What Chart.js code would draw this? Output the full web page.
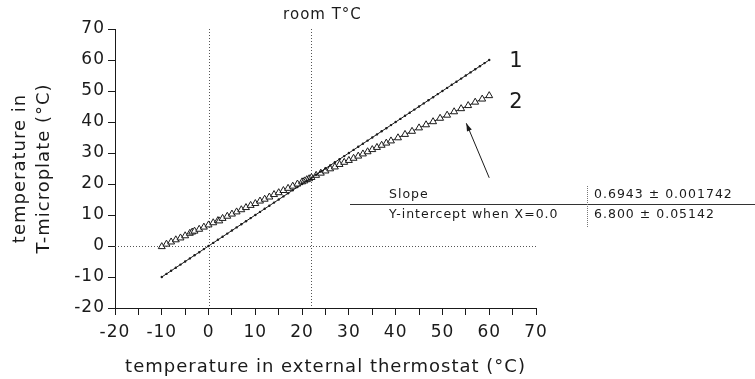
<!DOCTYPE html>
<html>
<head>
<meta charset="utf-8">
<script src="https://cdn.jsdelivr.net/npm/chart.js@4.4.1/dist/chart.umd.min.js"></script>
<style>
  html, body { margin: 0; padding: 0; background: #fff; }
  #wrap { width: 755px; height: 379px; position: relative; }
</style>
</head>
<body>
<div id="wrap"><canvas id="c" width="755" height="379"></canvas></div>
<script>
// Series 1: microplate reading equal to thermostat setting (reference line)
const line1X = [-10, -9, -8, -7, -6, -5, -4, -3, -2, -1, 0, 1, 2, 3, 4, 5, 6, 7, 8, 9, 10, 11, 12, 13, 14, 15, 16, 17, 18, 19, 20, 21, 22, 23, 24, 25, 26, 27, 28, 29, 30, 31, 32, 33, 34, 35, 36, 37, 38, 39, 40, 41, 42, 43, 44, 45, 46, 47, 48, 49, 50, 51, 52, 53, 54, 55, 56, 57, 58, 59, 60];
const line1Y = [-10, -9, -8, -7, -6, -5, -4, -3, -2, -1, 0, 1, 2, 3, 4, 5, 6, 7, 8, 9, 10, 11, 12, 13, 14, 15, 16, 17, 18, 19, 20, 21, 22, 23, 24, 25, 26, 27, 28, 29, 30, 31, 32, 33, 34, 35, 36, 37, 38, 39, 40, 41, 42, 43, 44, 45, 46, 47, 48, 49, 50, 51, 52, 53, 54, 55, 56, 57, 58, 59, 60];

// Series 2: measured temperature in the T-microplate
const line2X = [-10, -9, -8, -7, -6, -5, -4, -3.5, -3, -2, -1, 0, 1, 2, 2.3, 3, 4, 5, 6, 7, 8, 9, 10, 11, 12, 13, 14, 15, 16, 17, 18, 19, 20, 20.5, 21, 21.5, 22, 23, 24, 25, 26, 27, 28, 29, 30, 31, 32, 33, 34, 35, 36, 37, 38, 39, 40.5, 42, 43.5, 45, 46.5, 48, 49.5, 51, 52.5, 54, 55.5, 57, 58.5, 60];
const line2Y = [-0.2, 0.6, 1.3, 2.0, 2.6, 3.3, 4.1, 4.5, 4.8, 5.4, 6.1, 6.8, 7.5, 8.2, 8.1, 8.9, 9.6, 10.3, 11.0, 11.7, 12.4, 13.1, 13.7, 14.5, 15.1, 15.8, 16.6, 17.2, 17.9, 18.6, 19.3, 20.0, 20.7, 21.0, 21.4, 21.7, 22.1, 22.8, 23.5, 24.2, 24.9, 25.5, 26.3, 27.0, 27.6, 28.3, 29.0, 29.7, 30.4, 31.1, 31.8, 32.5, 33.2, 33.9, 34.9, 36.0, 37.0, 38.1, 39.1, 40.1, 41.2, 42.2, 43.3, 44.3, 45.3, 46.4, 47.4, 48.5];

// Axis ranges and markers
const xRange = [-20, 70];
const yRange = [-20, 70];
const roomT = 22;

// Fit results for series 2
const fitRows = ['Slope', 'Y-intercept when X=0.0'];
const fitValues = ['0.6943 \u00b1 0.001742', '6.800 \u00b1 0.05142'];

const FONT = 'DejaVu Sans';
const INK = '#1a1a1a';

const toPoints = (xs, ys) => xs.map((x, i) => ({ x, y: ys[i] }));

const extras = {
  id: 'extras',
  beforeDraw(chart) {
    chart.ctx.letterSpacing = '1px';
  },
  beforeDatasetsDraw(chart) {
    const { ctx, scales: { x, y } } = chart;
    ctx.save();
    ctx.strokeStyle = '#555';
    ctx.lineWidth = 1;
    ctx.setLineDash([1, 2]);
    // vertical guides at 0 and at room temperature
    [0, roomT].forEach(v => {
      const px = Math.round(x.getPixelForValue(v)) + 0.5;
      ctx.beginPath();
      ctx.moveTo(px, y.getPixelForValue(yRange[1]));
      ctx.lineTo(px, y.getPixelForValue(yRange[0]));
      ctx.stroke();
    });
    // horizontal guide at 0
    const py = Math.round(y.getPixelForValue(0)) + 0.5;
    ctx.beginPath();
    ctx.moveTo(x.getPixelForValue(xRange[0]), py);
    ctx.lineTo(x.getPixelForValue(xRange[1]), py);
    ctx.stroke();
    ctx.restore();
  },
  afterDraw(chart) {
    const { ctx, scales: { x, y } } = chart;
    ctx.save();
    ctx.letterSpacing = '1px';
    ctx.fillStyle = INK;
    ctx.textBaseline = 'middle';

    // room temperature caption
    ctx.font = `15px "${FONT}"`;
    ctx.textAlign = 'center';
    ctx.fillText('room T\u00b0C', x.getPixelForValue(roomT) + 11, 15);

    // series labels
    ctx.font = `21px "${FONT}"`;
    ctx.textAlign = 'left';
    ctx.fillText('1', x.getPixelForValue(64.3), y.getPixelForValue(59.6));
    ctx.fillText('2', x.getPixelForValue(64.3), y.getPixelForValue(46.2));

    // arrow pointing at series 2
    const ax0 = x.getPixelForValue(60), ay0 = y.getPixelForValue(22);
    const ax1 = x.getPixelForValue(55.1), ay1 = y.getPixelForValue(39.6);
    ctx.strokeStyle = INK;
    ctx.lineWidth = 1;
    ctx.beginPath();
    ctx.moveTo(ax0, ay0);
    ctx.lineTo(ax1, ay1);
    ctx.stroke();
    const ang = Math.atan2(ay1 - ay0, ax1 - ax0);
    const hl = 8, hw = 2.6;
    ctx.beginPath();
    ctx.moveTo(ax1, ay1);
    ctx.lineTo(ax1 - hl * Math.cos(ang) + hw * Math.sin(ang), ay1 - hl * Math.sin(ang) - hw * Math.cos(ang));
    ctx.lineTo(ax1 - hl * Math.cos(ang) - hw * Math.sin(ang), ay1 - hl * Math.sin(ang) + hw * Math.cos(ang));
    ctx.closePath();
    ctx.fill();

    // fit results table
    ctx.strokeStyle = '#333';
    ctx.beginPath();
    ctx.moveTo(350, 204.5);
    ctx.lineTo(755, 204.5);
    ctx.stroke();
    ctx.strokeStyle = '#777';
    ctx.setLineDash([1, 1]);
    ctx.beginPath();
    ctx.moveTo(587.5, 186);
    ctx.lineTo(587.5, 227);
    ctx.stroke();
    ctx.setLineDash([]);
    ctx.font = `12.5px "${FONT}"`;
    ctx.letterSpacing = '1px';
    ctx.textAlign = 'left';
    const rowY = [195, 215];
    fitRows.forEach((t, i) => ctx.fillText(t, 389, rowY[i]));
    fitValues.forEach((t, i) => ctx.fillText(t, 594, rowY[i]));
    ctx.restore();
  }
};

new Chart(document.getElementById('c'), {
  type: 'scatter',
  data: {
    datasets: [
      {
        label: '1',
        data: toPoints(line1X, line1Y),
        showLine: true,
        borderColor: INK,
        borderWidth: 1,
        backgroundColor: INK,
        pointRadius: 1.2,
        pointHoverRadius: 1.2,
        pointBorderWidth: 0,
        pointStyle: 'circle'
      },
      {
        label: '2',
        data: toPoints(line2X, line2Y),
        showLine: true,
        borderColor: INK,
        borderWidth: 1,
        pointStyle: 'triangle',
        pointRadius: 4,
        pointHoverRadius: 4,
        pointBackgroundColor: '#fff',
        pointBorderColor: INK,
        pointBorderWidth: 1
      }
    ]
  },
  options: {
    responsive: false,
    animation: false,
    events: [],
    layout: { padding: { top: 29, right: 219, left: 0, bottom: 0 } },
    plugins: { legend: { display: false }, tooltip: { enabled: false } },
    scales: {
      x: {
        type: 'linear',
        min: xRange[0],
        max: xRange[1],
        afterFit: s => { s.height = 71; },
        border: { display: true, color: INK, width: 1 },
        grid: { display: true, drawOnChartArea: false, drawTicks: true, tickLength: 7, color: INK },
        ticks: {
          stepSize: 5,
          autoSkip: false,
          maxRotation: 0,
          padding: 7,
          color: INK,
          font: { family: FONT, size: 17 },
          callback: v => (v % 10 === 0 ? String(v) : '')
        },
        title: {
          display: true,
          text: 'temperature in external thermostat (\u00b0C)',
          color: INK,
          font: { family: FONT, size: 18 },
          padding: { top: 0, bottom: 1 }
        }
      },
      y: {
        type: 'linear',
        min: yRange[0],
        max: yRange[1],
        afterFit: s => { s.width = 115; },
        border: { display: true, color: INK, width: 1 },
        grid: { display: true, drawOnChartArea: false, drawTicks: true, tickLength: 7, color: INK },
        ticks: {
          stepSize: 10,
          autoSkip: false,
          padding: 3,
          color: INK,
          font: { family: FONT, size: 17 }
        },
        title: {
          display: true,
          text: ['temperature in', 'T-microplate (\u00b0C)'],
          color: INK,
          font: { family: FONT, size: 18, lineHeight: 1.3 },
          padding: { top: 9, bottom: 0 }
        }
      }
    }
  },
  plugins: [extras]
});
</script>
</body>
</html>
